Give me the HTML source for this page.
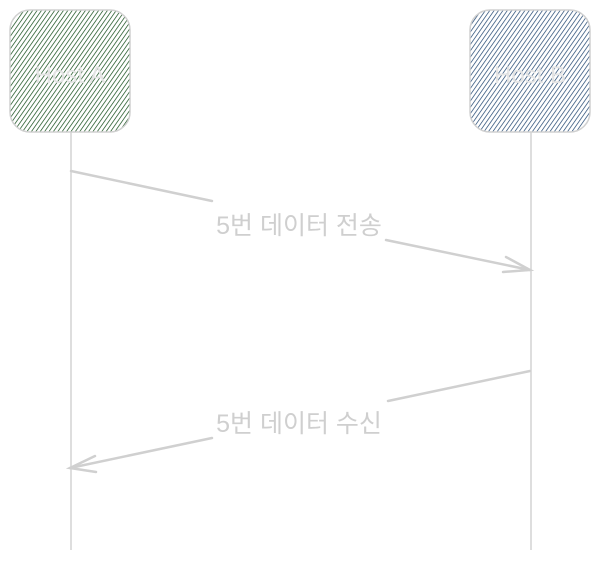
<!DOCTYPE html>
<html><head><meta charset="utf-8"><style>
html,body{margin:0;padding:0;background:#fff;width:600px;height:563px;overflow:hidden}
</style></head><body>
<svg width="600" height="563" xmlns="http://www.w3.org/2000/svg">
<defs>
<pattern id="ha" width="3.6" height="5" patternUnits="userSpaceOnUse" patternTransform="rotate(35)">
<line x1="0" y1="0" x2="0" y2="5" stroke="#1f5525" stroke-width="1.5"/></pattern>
<pattern id="hb" width="3.6" height="5" patternUnits="userSpaceOnUse" patternTransform="rotate(35)">
<line x1="0" y1="0" x2="0" y2="5" stroke="#2c5078" stroke-width="1.5"/></pattern>
</defs>
<line x1="71" y1="132" x2="71" y2="550" stroke="#d4d4d4" stroke-width="1.5"/>
<line x1="531" y1="132" x2="531" y2="550" stroke="#d4d4d4" stroke-width="1.5"/>
<rect x="10" y="10" width="120" height="122" rx="20" fill="url(#ha)" stroke="#d0d0d0" stroke-width="1.5"/>
<rect x="470" y="10" width="120" height="122" rx="20" fill="url(#hb)" stroke="#d0d0d0" stroke-width="1.5"/>
<text x="70" y="83" font-family="Liberation Sans, sans-serif" font-size="24" fill="#e4e4e4" text-anchor="middle">Host A</text>
<text x="530" y="83" font-family="Liberation Sans, sans-serif" font-size="24" fill="#e4e4e4" text-anchor="middle">Host B</text>
<g stroke="#d0d0d0" stroke-width="2.5" fill="none" stroke-linecap="round">
<polyline points="71,171 212,201"/>
<polyline points="386,240 530,270"/>
<polyline points="506,257 530,270 503,272"/>
<polyline points="530,371 388,401"/>
<polyline points="212,438 70,468"/>
<polyline points="95,456 70,468 96,472"/>
</g>
<g font-family="Liberation Sans, 'Noto Sans CJK KR', sans-serif" font-size="25" fill="#cfcfcf" text-anchor="middle">
<text x="299" y="234">5번 데이터 전송</text>
<text x="299" y="432">5번 데이터 수신</text>
</g>
</svg>
</body></html>
